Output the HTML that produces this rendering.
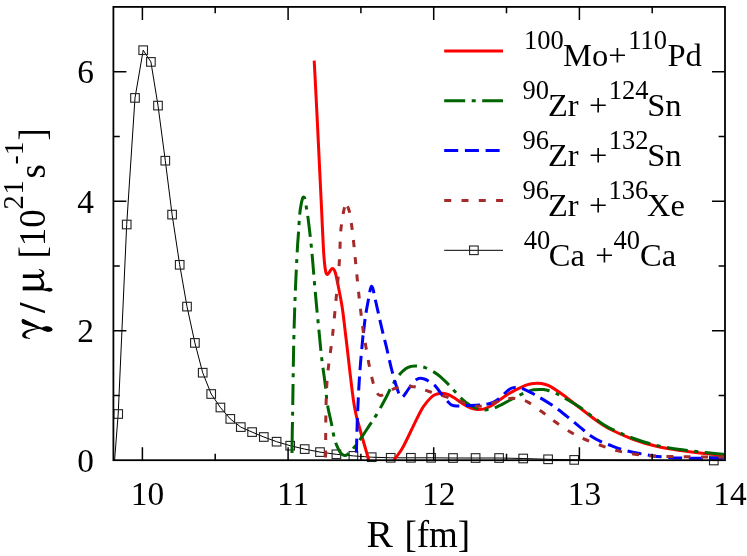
<!DOCTYPE html>
<html>
<head>
<meta charset="utf-8">
<title>gamma / mu vs R</title>
<style>
html,body{margin:0;padding:0;background:#fff;}
body{width:747px;height:556px;overflow:hidden;font-family:"Liberation Serif",serif;}
svg{display:block;will-change:transform;}
</style>
</head>
<body>
<svg width="747" height="556" viewBox="0 0 747 556">
<rect x="0" y="0" width="747" height="556" fill="#fff"/>
<path d="M114.6,460.0 L118.2,414.0 L126.7,224.5 L135.0,97.9 L143.2,50.2 L150.9,61.9 L158.0,105.6 L165.3,160.7 L172.1,214.6 L179.7,264.8 L187.0,306.6 L194.9,342.9 L202.7,372.7 L211.2,394.0 L220.4,407.5 L230.3,418.9 L240.8,427.1 L252.1,432.1 L263.8,437.0 L276.6,441.7 L290.2,445.7 L304.7,449.1 L320.0,452.1 L336.4,454.3 L353.4,455.9 L371.7,457.2 L390.7,457.8 L410.9,457.8 L431.1,457.8 L453.0,458.0 L475.6,458.0 L499.1,458.0 L523.2,458.5 L548.1,459.3 L574.2,459.9 L713.8,460.5" fill="none" stroke="#000" stroke-width="1"/>
<rect x="113.9" y="409.7" width="8.6" height="8.6" fill="none" stroke="#222" stroke-width="1.1"/>
<rect x="122.4" y="220.2" width="8.6" height="8.6" fill="none" stroke="#222" stroke-width="1.1"/>
<rect x="130.7" y="93.6" width="8.6" height="8.6" fill="none" stroke="#222" stroke-width="1.1"/>
<rect x="138.9" y="45.9" width="8.6" height="8.6" fill="none" stroke="#222" stroke-width="1.1"/>
<rect x="146.6" y="57.6" width="8.6" height="8.6" fill="none" stroke="#222" stroke-width="1.1"/>
<rect x="153.7" y="101.3" width="8.6" height="8.6" fill="none" stroke="#222" stroke-width="1.1"/>
<rect x="161.0" y="156.4" width="8.6" height="8.6" fill="none" stroke="#222" stroke-width="1.1"/>
<rect x="167.8" y="210.3" width="8.6" height="8.6" fill="none" stroke="#222" stroke-width="1.1"/>
<rect x="175.4" y="260.5" width="8.6" height="8.6" fill="none" stroke="#222" stroke-width="1.1"/>
<rect x="182.7" y="302.3" width="8.6" height="8.6" fill="none" stroke="#222" stroke-width="1.1"/>
<rect x="190.6" y="338.6" width="8.6" height="8.6" fill="none" stroke="#222" stroke-width="1.1"/>
<rect x="198.4" y="368.4" width="8.6" height="8.6" fill="none" stroke="#222" stroke-width="1.1"/>
<rect x="206.9" y="389.7" width="8.6" height="8.6" fill="none" stroke="#222" stroke-width="1.1"/>
<rect x="216.1" y="403.2" width="8.6" height="8.6" fill="none" stroke="#222" stroke-width="1.1"/>
<rect x="226.0" y="414.6" width="8.6" height="8.6" fill="none" stroke="#222" stroke-width="1.1"/>
<rect x="236.5" y="422.8" width="8.6" height="8.6" fill="none" stroke="#222" stroke-width="1.1"/>
<rect x="247.8" y="427.8" width="8.6" height="8.6" fill="none" stroke="#222" stroke-width="1.1"/>
<rect x="259.5" y="432.7" width="8.6" height="8.6" fill="none" stroke="#222" stroke-width="1.1"/>
<rect x="272.3" y="437.4" width="8.6" height="8.6" fill="none" stroke="#222" stroke-width="1.1"/>
<rect x="285.9" y="441.4" width="8.6" height="8.6" fill="none" stroke="#222" stroke-width="1.1"/>
<rect x="300.4" y="444.8" width="8.6" height="8.6" fill="none" stroke="#222" stroke-width="1.1"/>
<rect x="315.7" y="447.8" width="8.6" height="8.6" fill="none" stroke="#222" stroke-width="1.1"/>
<rect x="332.1" y="450.0" width="8.6" height="8.6" fill="none" stroke="#222" stroke-width="1.1"/>
<rect x="349.1" y="451.6" width="8.6" height="8.6" fill="none" stroke="#222" stroke-width="1.1"/>
<rect x="367.4" y="452.9" width="8.6" height="8.6" fill="none" stroke="#222" stroke-width="1.1"/>
<rect x="386.4" y="453.5" width="8.6" height="8.6" fill="none" stroke="#222" stroke-width="1.1"/>
<rect x="406.6" y="453.5" width="8.6" height="8.6" fill="none" stroke="#222" stroke-width="1.1"/>
<rect x="426.8" y="453.5" width="8.6" height="8.6" fill="none" stroke="#222" stroke-width="1.1"/>
<rect x="448.7" y="453.7" width="8.6" height="8.6" fill="none" stroke="#222" stroke-width="1.1"/>
<rect x="471.3" y="453.7" width="8.6" height="8.6" fill="none" stroke="#222" stroke-width="1.1"/>
<rect x="494.8" y="453.7" width="8.6" height="8.6" fill="none" stroke="#222" stroke-width="1.1"/>
<rect x="518.9" y="454.2" width="8.6" height="8.6" fill="none" stroke="#222" stroke-width="1.1"/>
<rect x="543.8" y="455.0" width="8.6" height="8.6" fill="none" stroke="#222" stroke-width="1.1"/>
<rect x="569.9" y="455.6" width="8.6" height="8.6" fill="none" stroke="#222" stroke-width="1.1"/>
<rect x="709.5" y="456.2" width="8.6" height="8.6" fill="none" stroke="#222" stroke-width="1.1"/>
<path d="M314.2,60.6 C314.8,71.3 316.5,104.6 317.5,125.0 C318.5,145.4 319.6,168.8 320.3,183.0 C321.0,197.2 321.1,199.2 321.6,210.0 C322.1,220.8 322.9,239.0 323.4,248.0 C323.9,257.0 324.2,260.0 324.6,264.0 C325.0,268.0 325.4,270.2 325.8,272.0 C326.2,273.8 326.7,274.6 327.3,274.6 C327.9,274.6 328.8,272.9 329.5,272.0 C330.2,271.1 330.7,269.8 331.3,269.2 C331.9,268.6 332.4,268.1 333.1,268.6 C333.8,269.2 334.6,270.2 335.3,272.5 C336.0,274.8 336.3,276.5 337.5,282.4 C338.7,288.3 340.9,298.7 342.3,308.0 C343.7,317.3 344.1,322.7 346.0,338.0 C347.9,353.3 351.3,385.7 353.4,400.0 C355.5,414.3 355.9,414.0 358.5,424.0 C361.1,434.0 367.1,454.0 368.8,460.0" fill="none" stroke="#ff0000" stroke-width="3.0" stroke-linejoin="round"/>
<path d="M393.9,460.0 C394.7,459.0 396.9,456.3 398.5,454.0 C400.1,451.7 401.1,450.7 403.6,446.0 C406.1,441.3 410.9,431.0 413.4,425.9 C415.9,420.8 416.8,418.7 418.5,415.5 C420.2,412.3 421.2,409.7 423.4,406.6 C425.6,403.5 429.2,399.1 431.5,397.0 C433.8,394.9 435.1,394.6 437.0,394.0 C438.9,393.4 441.0,393.1 442.9,393.2 C444.8,393.3 446.6,393.8 448.5,394.6 C450.4,395.4 451.6,396.2 454.2,397.8 C456.8,399.4 461.1,402.8 463.9,404.5 C466.7,406.2 468.7,407.3 471.0,408.2 C473.3,409.1 475.5,409.5 477.8,409.6 C480.1,409.7 482.6,409.4 485.0,408.6 C487.4,407.9 488.5,407.6 492.4,405.1 C496.3,402.6 503.2,396.9 508.6,393.7 C514.0,390.4 521.0,387.3 524.8,385.6 C528.6,383.9 529.4,384.1 531.5,383.7 C533.6,383.3 535.5,383.1 537.7,383.2 C539.9,383.3 542.3,383.6 544.5,384.2 C546.7,384.8 547.5,384.8 550.7,386.6 C553.9,388.5 558.7,391.7 563.6,395.3 C568.5,398.9 574.8,404.0 580.0,408.0 C585.2,412.0 590.3,416.1 595.0,419.5 C599.7,422.9 602.0,424.9 608.2,428.2 C614.4,431.4 624.3,436.0 632.3,439.0 C640.3,442.0 648.4,444.4 656.4,446.3 C664.4,448.2 672.5,449.4 680.5,450.6 C688.5,451.8 697.2,452.7 704.6,453.5 C712.0,454.3 721.6,455.1 725.0,455.4" fill="none" stroke="#ff0000" stroke-width="3.0" stroke-linejoin="round"/>
<path d="M292.0,453.0 C292.0,451.3 292.1,446.8 292.1,443.0" fill="none" stroke="#006400" stroke-width="3.0" stroke-dasharray="21 6.55 4 6.55" stroke-linejoin="round"/>
<path d="M292.1,443.0 C292.2,439.2 292.2,434.8 292.3,430.0 C292.4,425.2 292.4,429.2 292.6,414.2 C292.9,399.2 293.3,360.7 293.8,340.0 C294.3,319.3 294.8,305.0 295.4,290.0 C296.0,275.0 296.8,259.6 297.3,250.0 C297.8,240.4 298.1,238.5 298.5,232.6 C298.9,226.7 299.2,219.3 299.7,214.5 C300.1,209.7 300.7,206.7 301.2,204.0 C301.7,201.3 302.2,199.4 302.6,198.2 C303.0,197.0 303.4,196.8 303.8,197.0 C304.2,197.2 304.6,197.4 305.0,199.2 C305.4,201.0 305.9,204.8 306.4,207.7 C306.9,210.6 307.2,212.1 307.9,216.9 C308.5,221.8 309.6,230.5 310.3,236.8 C311.0,243.1 311.6,249.0 312.1,254.5 C312.6,260.0 312.8,262.4 313.4,270.0 C314.0,277.6 315.1,290.0 316.0,300.0 C316.9,310.0 317.9,320.1 318.9,330.0 C319.9,339.9 320.7,349.9 321.8,359.1 C322.9,368.3 324.4,377.4 325.3,385.0 C326.2,392.6 326.4,398.3 327.5,404.9 C328.6,411.4 330.4,418.4 331.6,424.3 C332.8,430.2 333.6,435.7 334.8,440.0 C336.0,444.3 337.8,447.9 338.9,450.2 C340.0,452.5 340.6,452.9 341.5,453.8 C342.4,454.7 343.4,455.3 344.5,455.4 C345.6,455.5 346.6,455.1 347.8,454.2 C349.0,453.3 349.8,452.6 351.8,450.2 C353.8,447.8 356.9,443.9 359.9,439.7 C362.9,435.5 366.9,429.2 369.6,425.1 C372.3,421.1 373.5,419.7 376.1,415.4 C378.7,411.1 382.4,404.4 385.0,399.5 C387.6,394.6 389.6,390.1 392.0,386.0 C394.4,381.9 396.8,377.9 399.1,375.0 C401.4,372.1 404.0,369.9 406.0,368.5 C408.0,367.1 409.4,366.8 411.0,366.4 C412.6,366.0 413.8,366.0 415.3,366.0 C416.8,366.0 418.4,366.1 420.0,366.4 C421.6,366.7 422.6,366.6 425.1,367.6 C427.6,368.6 432.2,371.0 434.8,372.6 C437.4,374.2 438.9,375.5 441.0,377.3 C443.1,379.1 445.5,381.4 447.7,383.6 C449.9,385.9 451.8,388.2 454.2,390.8 C456.6,393.4 459.7,396.9 462.3,399.3 C464.9,401.7 467.5,403.6 469.7,405.0 C471.9,406.4 473.6,407.1 475.3,407.8 C477.0,408.5 478.4,409.0 480.0,409.3 C481.6,409.6 483.4,409.9 485.1,409.9 C486.8,409.9 488.2,409.7 490.0,409.3 C491.8,408.9 494.0,408.1 496.0,407.3 C498.0,406.5 498.1,406.4 502.1,404.3 C506.1,402.2 515.3,397.2 519.9,395.0 C524.5,392.8 527.2,391.7 529.6,390.8 C532.0,389.9 532.9,389.9 534.5,389.7 C536.1,389.5 537.8,389.4 539.4,389.4 C541.0,389.4 542.5,389.4 544.0,389.6 C545.5,389.8 546.1,389.8 548.3,390.5 C550.5,391.2 553.9,392.4 557.2,394.0 C560.5,395.6 564.2,397.8 568.0,400.0 C571.8,402.2 575.5,404.2 580.0,407.3 C584.5,410.4 590.3,415.2 595.0,418.5 C599.7,421.8 602.0,424.1 608.2,427.3 C614.4,430.6 624.3,435.0 632.3,438.0 C640.3,441.0 648.4,443.4 656.4,445.3 C664.4,447.2 672.5,448.4 680.5,449.6 C688.5,450.8 697.2,451.7 704.6,452.5 C712.0,453.3 721.6,454.1 725.0,454.4" fill="none" stroke="#006400" stroke-width="3.0" stroke-dasharray="21 6.55 4 6.55" stroke-linejoin="round"/>
<path d="M356.4,452.6 C356.5,448.8 356.8,436.9 357.0,430.0 C357.2,423.1 357.3,420.2 357.7,411.0 C358.1,401.8 358.8,386.8 359.6,375.0 C360.4,363.2 362.0,347.0 362.6,340.0 C363.2,333.0 363.0,337.0 363.5,333.0" fill="none" stroke="#0000ff" stroke-width="3.0" stroke-dasharray="14 6.7" stroke-linejoin="round"/>
<path d="M363.5,333.0 C364.0,329.0 364.6,321.8 365.5,316.0 C366.4,310.2 367.9,302.4 368.7,298.0 C369.5,293.6 369.7,291.8 370.2,289.8 C370.7,287.9 371.0,286.4 371.5,286.3 C372.0,286.2 372.3,286.6 373.0,289.0 C373.7,291.4 374.5,296.0 375.5,300.5 C376.5,305.0 377.8,310.6 379.0,316.0 C380.2,321.4 381.6,327.6 382.8,332.6 C384.0,337.6 384.7,339.9 386.2,346.2 C387.7,352.5 390.3,364.3 391.9,370.5 C393.4,376.7 394.4,379.9 395.5,383.5 C396.6,387.1 397.5,389.9 398.3,392.0 C399.1,394.1 399.6,395.1 400.2,396.0 C400.8,396.9 401.2,397.2 401.8,397.2 C402.4,397.2 402.7,397.1 403.6,396.0 C404.6,394.9 406.0,392.6 407.5,390.5 C409.0,388.4 411.0,385.3 412.5,383.5 C414.0,381.7 415.2,380.5 416.5,379.6 C417.8,378.7 418.9,378.4 420.2,378.3 C421.5,378.2 422.9,378.6 424.3,379.0 C425.7,379.4 426.9,380.2 428.3,381.0 C429.7,381.8 431.1,382.7 432.5,383.7 C433.9,384.7 434.7,385.1 436.4,387.2 C438.1,389.2 440.7,393.3 442.9,396.0 C445.1,398.7 447.9,401.7 449.4,403.2 C450.9,404.7 451.0,404.6 451.8,405.0 C452.6,405.4 452.8,405.6 454.2,405.8 C455.6,406.0 457.8,406.1 460.0,406.0 C462.2,405.9 464.0,405.6 467.2,405.5 C470.4,405.4 476.3,405.3 479.4,405.1 C482.5,404.9 483.8,404.7 486.0,404.3 C488.2,403.9 490.2,403.6 492.4,402.6 C494.6,401.7 496.9,400.2 499.0,398.6 C501.1,397.0 503.6,394.4 505.3,392.8 C507.1,391.2 508.1,390.1 509.5,389.2 C510.9,388.3 512.0,387.9 513.4,387.6 C514.8,387.3 516.4,387.4 518.0,387.6 C519.6,387.8 520.5,387.8 523.2,388.9 C526.0,390.0 529.6,391.8 534.5,394.5 C539.4,397.2 546.9,401.7 552.3,405.3 C557.7,408.9 562.3,412.8 566.9,416.4 C571.5,420.0 575.9,423.9 580.0,427.2 C584.1,430.5 587.8,433.8 591.3,436.2 C594.8,438.6 597.4,439.9 601.0,441.6 C604.6,443.3 609.0,444.9 613.0,446.3 C617.0,447.8 620.6,449.1 625.0,450.3 C629.4,451.5 634.8,452.6 639.5,453.5 C644.2,454.4 648.2,455.2 653.0,455.9 C657.8,456.5 663.1,457.0 668.4,457.4 C673.7,457.8 679.0,458.0 685.0,458.1 C691.0,458.2 697.9,458.3 704.6,458.3 C711.3,458.3 721.6,458.3 725.0,458.3" fill="none" stroke="#0000ff" stroke-width="3.0" stroke-dasharray="14 6.6" stroke-linejoin="round"/>
<path d="M325.6,457.5 C325.6,451.2 325.7,429.6 325.8,420.0 C325.9,410.4 326.0,405.8 326.2,400.0 C326.4,394.2 326.4,390.7 326.8,385.0 C327.2,379.3 327.6,373.9 328.6,365.6 C329.6,357.3 331.4,345.9 332.6,335.0 C333.8,324.1 335.0,310.8 336.0,300.0 C337.0,289.2 338.2,278.3 338.8,270.0 C339.4,261.7 339.6,256.4 339.9,250.0 C340.2,243.6 340.2,237.3 340.7,231.4 C341.2,225.5 342.4,218.7 343.0,214.8 C343.6,210.9 343.9,209.6 344.4,208.0 C344.9,206.4 345.3,205.6 345.8,205.3 C346.3,205.0 346.9,205.7 347.4,206.3" fill="none" stroke="#a52a2a" stroke-width="3.0" stroke-dasharray="7 10.45" stroke-linejoin="round"/>
<path d="M347.4,206.3 C347.8,206.9 348.1,207.6 348.5,208.8 C348.9,210.0 349.2,210.2 349.8,213.3 C350.4,216.4 351.2,222.3 351.9,227.2 C352.5,232.1 353.1,237.2 353.7,242.8 C354.3,248.4 354.6,252.1 355.5,261.0 C356.4,269.9 357.7,284.1 359.0,296.0 C360.3,307.9 362.3,324.2 363.4,332.6 C364.5,341.0 364.9,340.8 365.8,346.2 C366.8,351.6 367.9,358.7 369.1,364.8 C370.3,370.9 371.9,378.1 373.1,382.6 C374.3,387.1 375.3,389.8 376.5,392.0 C377.7,394.2 378.8,395.4 380.4,395.6 C382.0,395.8 383.7,394.2 386.0,393.0 C388.3,391.8 391.5,389.6 394.3,388.6 C397.1,387.6 400.0,387.2 403.0,386.8 C406.0,386.4 409.3,386.1 412.1,386.4 C414.9,386.6 417.3,387.5 420.0,388.3 C422.7,389.1 424.2,389.9 428.3,391.2 C432.4,392.5 439.1,394.7 444.5,396.4 C449.9,398.1 456.4,400.1 460.7,401.5 C464.9,402.9 467.1,404.0 470.0,404.8 C472.9,405.6 475.3,406.2 478.0,406.3 C480.7,406.4 483.3,405.8 486.0,405.2 C488.7,404.6 491.2,403.5 494.0,402.6 C496.8,401.7 500.0,400.5 503.0,399.8 C506.0,399.1 509.0,398.4 511.8,398.3 C514.6,398.2 517.3,398.7 520.0,399.3 C522.7,399.9 524.2,399.9 528.0,402.1 C531.8,404.3 538.0,409.0 542.6,412.3 C547.2,415.6 550.6,418.7 555.5,422.1 C560.4,425.5 566.9,430.0 571.7,432.8 C576.5,435.6 579.2,436.9 584.1,439.0 C589.0,441.1 595.4,443.5 601.0,445.5 C606.6,447.5 612.2,449.4 617.8,450.9 C623.4,452.3 629.1,453.4 634.7,454.2 C640.3,455.0 643.2,455.5 651.6,455.9 C660.0,456.3 673.1,456.6 685.3,456.8 C697.5,457.0 718.4,457.1 725.0,457.1" fill="none" stroke="#a52a2a" stroke-width="3.0" stroke-dasharray="7 10.25" stroke-linejoin="round"/>
<rect x="113.4" y="6.9" width="611.6" height="453.3" fill="none" stroke="#000" stroke-width="1.8"/>
<path d="M142.4,460.2 v-13.0 M142.4,6.9 v13.0 M288.1,460.2 v-13.0 M288.1,6.9 v13.0 M433.7,460.2 v-13.0 M433.7,6.9 v13.0 M579.4,460.2 v-13.0 M579.4,6.9 v13.0 M215.2,460.2 v-6.4 M215.2,6.9 v6.4 M360.9,460.2 v-6.4 M360.9,6.9 v6.4 M506.5,460.2 v-6.4 M506.5,6.9 v6.4 M652.2,460.2 v-6.4 M652.2,6.9 v6.4 M113.4,330.7 h13.0 M725.0,330.7 h-13.0 M113.4,201.2 h13.0 M725.0,201.2 h-13.0 M113.4,71.7 h13.0 M725.0,71.7 h-13.0 M113.4,395.4 h6.4 M725.0,395.4 h-6.4 M113.4,265.9 h6.4 M725.0,265.9 h-6.4 M113.4,136.4 h6.4 M725.0,136.4 h-6.4" fill="none" stroke="#000" stroke-width="1.5"/>
<g font-family="Liberation Serif, serif" font-size="34.6" fill="#000">
<text transform="translate(147.4,505.2) scale(0.965,1)" text-anchor="middle">10</text>
<text transform="translate(293.1,505.2) scale(0.965,1)" text-anchor="middle">11</text>
<text transform="translate(438.7,505.2) scale(0.965,1)" text-anchor="middle">12</text>
<text transform="translate(584.4,505.2) scale(0.965,1)" text-anchor="middle">13</text>
<text transform="translate(730.0,505.2) scale(0.965,1)" text-anchor="middle">14</text>
<text transform="translate(94,471.8) scale(0.965,1)" text-anchor="end">0</text>
<text transform="translate(94,342.3) scale(0.965,1)" text-anchor="end">2</text>
<text transform="translate(94,212.8) scale(0.965,1)" text-anchor="end">4</text>
<text transform="translate(94,83.3) scale(0.965,1)" text-anchor="end">6</text>
</g>
<g font-family="Liberation Serif, serif" font-size="37" fill="#000">
<text transform="translate(366.5,547.4) scale(1.07,1)" x="0" y="0">R</text>
<text x="404.4" y="547.4">[fm]</text>
</g>
<g transform="translate(44.6,338.5) rotate(-90)" font-family="Liberation Serif, serif" font-size="37" fill="#000">
<path d="M19.39,-21.77 L15.05,-12.73 L11.14,-4.30 M19.39,-21.77 C19.41,-20.26 16.43,-15.64 15.05,-12.73 C13.68,-9.82 11.67,-6.31 11.14,-4.30 C10.61,-2.29 11.69,-1.94 11.86,-0.68 C12.03,0.57 12.29,2.03 12.16,3.23 C12.03,4.44 11.60,5.75 11.08,6.54 C10.56,7.34 9.67,7.99 9.03,7.99 C8.39,7.99 7.62,7.34 7.22,6.54 C6.82,5.75 6.59,4.34 6.62,3.23 C6.65,2.13 7.02,0.97 7.40,-0.08 C7.79,-1.14 8.51,-2.19 8.91,-3.09 C9.31,-4.00 9.32,-4.10 9.81,-5.50 C10.31,-6.91 11.01,-8.82 11.86,-11.53 C12.71,-14.24 13.68,-20.06 14.93,-21.77 C16.19,-23.48 19.37,-23.27 19.39,-21.77Z" fill="#000"/>
<path d="M10.72,-5.20 C10.72,-6.26 10.06,-9.47 9.63,-11.53 C9.20,-13.59 8.73,-15.95 8.13,-17.55 C7.52,-19.16 6.82,-20.34 6.02,-21.17 C5.21,-21.99 4.11,-22.44 3.31,-22.49 C2.50,-22.54 1.75,-22.09 1.20,-21.47 C0.65,-20.84 0.26,-19.86 -0.01,-18.76 C-0.27,-17.65 -0.45,-15.49 -0.37,-14.84 C-0.29,-14.19 0.19,-14.44 0.48,-14.84 C0.76,-15.24 0.95,-16.58 1.32,-17.25 C1.69,-17.92 2.12,-18.65 2.70,-18.88 C3.29,-19.11 4.16,-19.08 4.81,-18.64 C5.47,-18.19 6.04,-17.41 6.62,-16.23 C7.20,-15.04 7.81,-13.37 8.31,-11.53 C8.81,-9.69 9.23,-6.26 9.63,-5.20 C10.03,-4.15 10.72,-4.15 10.72,-5.20Z" fill="#000"/>
<path d="M19.39,-21.77 L10.96,-4.00 L9.75,-5.50 L14.93,-21.77Z" fill="#000"/>
<path d="M63.97,-21.77 L63.97,-4.00 L60.48,-4.00 L60.48,-21.77Z" fill="#000"/>
<path d="M51.80,-21.77 L51.80,-2.49 L48.19,-21.77Z" fill="#000"/>
<path d="M51.80,-2.49 C52.10,-2.49 50.26,-1.99 49.99,-1.29 C49.73,-0.58 50.09,0.77 50.23,1.73 C50.38,2.68 50.84,3.58 50.84,4.44 C50.84,5.29 50.58,6.25 50.23,6.85 C49.89,7.44 49.27,7.99 48.79,7.99 C48.31,7.99 47.66,7.44 47.34,6.85 C47.02,6.25 46.84,5.29 46.86,4.44 C46.88,3.58 47.24,2.68 47.46,1.73 C47.68,0.77 47.46,-0.58 48.19,-1.29 C48.91,-1.99 51.50,-2.49 51.80,-2.49Z" fill="#000"/>
<path d="M51.80,-21.77 L51.80,-1.29 L48.19,-1.29 L48.19,-21.77Z" fill="#000"/>
<path d="M60.72,-5.80 C61.20,-5.86 61.20,-4.75 60.72,-4.00 C60.23,-3.24 58.91,-1.90 57.83,-1.29 C56.74,-0.67 55.32,-0.38 54.21,-0.32 C53.11,-0.26 51.98,-0.56 51.20,-0.93 C50.42,-1.29 49.71,-1.58 49.51,-2.49 C49.31,-3.41 49.53,-6.11 49.99,-6.41 C50.46,-6.71 51.48,-4.85 52.28,-4.30 C53.09,-3.75 53.89,-3.19 54.81,-3.09 C55.74,-2.99 56.84,-3.24 57.83,-3.70 C58.81,-4.15 60.23,-5.75 60.72,-5.80Z" fill="#000"/>
<path d="M64.09,-5.50 C64.73,-5.10 64.23,-3.57 64.57,-3.09 C64.91,-2.62 65.66,-2.59 66.14,-2.67 C66.62,-2.75 67.02,-3.08 67.46,-3.58 C67.91,-4.07 68.47,-5.32 68.79,-5.62 C69.11,-5.93 69.49,-6.01 69.39,-5.38 C69.29,-4.76 68.81,-2.73 68.19,-1.89 C67.56,-1.05 66.50,-0.46 65.66,-0.32 C64.81,-0.18 63.83,-0.58 63.13,-1.05 C62.42,-1.51 61.84,-2.35 61.44,-3.09 C61.04,-3.84 60.28,-5.10 60.72,-5.50 C61.16,-5.91 63.45,-5.91 64.09,-5.50Z" fill="#000"/>
<text x="25.4" y="0" font-weight="bold">/</text>
<text x="80" y="0">[10</text>
<text x="129" y="-21.5" font-size="28.5" letter-spacing="0.8">21</text>
<text x="160" y="0">s</text>
<text x="174" y="-21.5" font-size="27.5">-1</text>
<text x="198" y="0">]</text>
</g>
<path d="M444.2,50.9 H503.0" stroke="#ff0000" stroke-width="3.0" fill="none"/>
<path d="M444.2,100.8 H503.0" stroke="#006400" stroke-width="3.0" stroke-dasharray="21 6.5 4 6.5" fill="none"/>
<path d="M444.2,150.5 H503.0" stroke="#0000ff" stroke-width="3.0" stroke-dasharray="14 6.7" fill="none"/>
<path d="M444.2,200.5 H503.0" stroke="#a52a2a" stroke-width="3.0" stroke-dasharray="7 10.3" fill="none"/>
<path d="M444.2,250.3 H503.0" stroke="#000" stroke-width="1" fill="none"/>
<rect x="469.6" y="246.0" width="8.6" height="8.6" fill="none" stroke="#222" stroke-width="1.1"/>
<g font-family="Liberation Serif, serif" fill="#000">
<text x="524.1" y="49.4" font-size="26.5">100</text>
<text x="563.0" y="65.8" font-size="32.5" xml:space="preserve">Mo+</text>
<text x="628.3" y="49.4" font-size="26.5">110</text>
<text x="667.4" y="65.8" font-size="32.5">Pd</text>
<text x="522.6" y="99.4" font-size="26.5">90</text>
<text x="548.0" y="115.8" font-size="32.5" word-spacing="2.2" xml:space="preserve">Zr +</text>
<text x="608.7" y="99.4" font-size="26.5">124</text>
<text x="647.3" y="115.8" font-size="32.5">Sn</text>
<text x="522.6" y="149.4" font-size="26.5">96</text>
<text x="548.0" y="165.8" font-size="32.5" word-spacing="2.2" xml:space="preserve">Zr +</text>
<text x="608.7" y="149.4" font-size="26.5">132</text>
<text x="647.3" y="165.8" font-size="32.5">Sn</text>
<text x="522.6" y="199.4" font-size="26.5">96</text>
<text x="548.0" y="215.8" font-size="32.5" word-spacing="2.2" xml:space="preserve">Zr +</text>
<text x="608.4" y="199.4" font-size="26.5">136</text>
<text x="647.0" y="215.8" font-size="32.5">Xe</text>
<text x="523.7" y="249.4" font-size="26.5">40</text>
<text x="548.8" y="265.8" font-size="32.5" word-spacing="2.2" xml:space="preserve">Ca +</text>
<text x="613.6" y="249.4" font-size="26.5">40</text>
<text x="640.1" y="265.8" font-size="32.5">Ca</text>
</g>
</svg>
</body>
</html>
